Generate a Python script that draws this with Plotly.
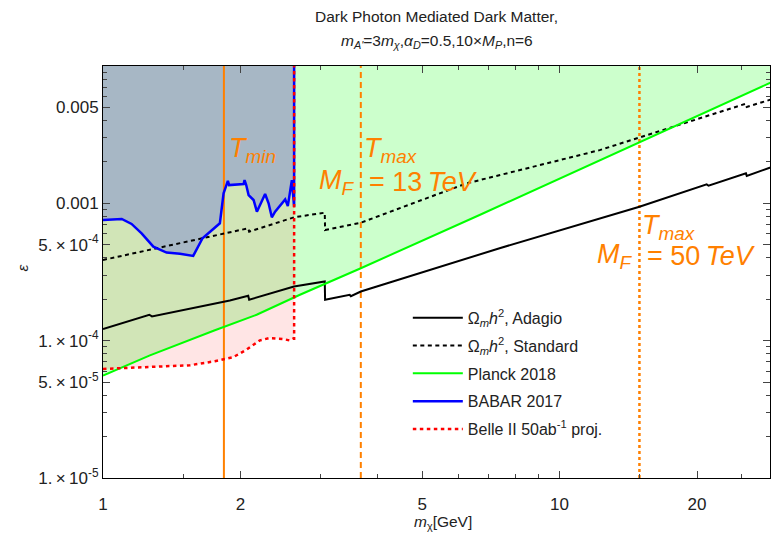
import math
import plotly.graph_objects as go

# ---------------- data ----------------
# Relic-abundance curves (epsilon vs m_chi [GeV])
adagio_m = [1.0, 1.263, 1.28, 1.80, 1.896, 2.08, 2.09, 2.62, 2.75, 3.06, 3.065, 3.47, 3.49,
            3.67, 7.39, 14.96, 21.0, 21.2, 25.6, 25.7, 30.0]
adagio_eps = [1.216e-4, 1.545e-4, 1.503e-4, 1.897e-4, 1.963e-4, 2.123e-4, 1.986e-4, 2.477e-4,
              2.541e-4, 2.698e-4, 1.986e-4, 2.158e-4, 2.109e-4, 2.280e-4, 4.71e-4, 9.44e-4,
              1.374e-3, 1.343e-3, 1.652e-3, 1.585e-3, 1.901e-3]

standard_m = [1.0, 1.896, 2.08, 2.09, 2.62, 3.06, 3.065, 3.67, 6.25, 12.24, 25.6, 25.7, 30.0]
standard_eps = [3.87e-4, 6.22e-4, 6.58e-4, 6.22e-4, 7.91e-4, 8.55e-4, 6.40e-4, 7.23e-4,
                1.396e-3, 2.44e-3, 5.32e-3, 5.04e-3, 5.89e-3]

planck_m = [1.0, 1.267, 1.758, 2.17, 2.70, 3.67, 6.68, 13.76, 30.0]
planck_eps = [5.57e-5, 7.82e-5, 1.19e-4, 1.545e-4, 2.16e-4, 3.37e-4, 8.22e-4, 2.44e-3, 7.98e-3]

babar_m = [1.0, 1.099, 1.155, 1.215, 1.289, 1.378, 1.474, 1.576, 1.652, 1.729, 1.803, 1.837,
           1.868, 1.877, 1.889, 2.032, 2.042, 2.059, 2.084, 2.137, 2.173, 2.265, 2.305, 2.343,
           2.382, 2.506, 2.540, 2.570, 2.592, 2.605, 2.622, 2.622]
babar_eps = [7.57e-4, 7.69e-4, 7.08e-4, 6.05e-4, 4.84e-4, 4.38e-4, 4.29e-4, 4.14e-4, 5.57e-4,
             6.32e-4, 7.16e-4, 1.183e-3, 1.396e-3, 1.459e-3, 1.358e-3, 1.380e-3, 1.476e-3,
             1.358e-3, 1.148e-3, 1.057e-3, 8.69e-4, 1.169e-3, 1.0e-3, 7.91e-4, 8.69e-4,
             1.069e-3, 9.55e-4, 1.285e-3, 1.476e-3, 1.213e-3, 9.44e-4, 1.0e-2]

belle_m = [1.0, 1.089, 1.267, 1.55, 1.758, 1.928, 2.063, 2.206, 2.318, 2.48, 2.56, 2.605,
           2.622, 2.622]
belle_eps = [6.22e-5, 6.32e-5, 6.44e-5, 6.62e-5, 7.08e-5, 7.57e-5, 8.61e-5, 1.005e-4,
             1.045e-4, 1.028e-4, 1.005e-4, 1.033e-4, 1.033e-4, 1.0e-2]

# Temperature markers (m_chi values)
t_min_m = 1.84
t_max13_m = 3.67
t_max50_m = 14.96
mf_labels = ["13", "50"]

eps_range = [1e-5, 1e-2]
x_major = [1, 2, 5, 10, 20]
x_major_text = ["1", "2", "5", "10", "20"]
x_minor = [1.5, 3, 4, 6, 7, 8, 9, 15, 25]
y_major = [1e-5, 5e-5, 1e-4, 5e-4, 1e-3, 5e-3]
y_major_text = ["1.\u2009\u00d7\u200910<sup>-5</sup>", "5.\u2009\u00d7\u200910<sup>-5</sup>",
                "1.\u2009\u00d7\u200910<sup>-4</sup>", "5.\u2009\u00d7\u200910<sup>-4</sup>",
                "0.001", "0.005"]
y_minor = [k * 10 ** e for e in (-5, -4, -3) for k in range(2, 10) if k != 5] + [1e-2]

ORANGE = "#ff8000"
TOP = 2e-2

fig = go.Figure()

# ---------------- filled regions ----------------
fig.add_trace(go.Scatter(x=planck_m + [planck_m[-1], planck_m[0]],
                         y=planck_eps + [TOP, TOP], fill="toself", mode="none",
                         fillcolor="rgba(0,255,0,0.2)", showlegend=False, hoverinfo="skip"))
fig.add_trace(go.Scatter(x=belle_m + [belle_m[0]], y=belle_eps[:-1] + [TOP, TOP],
                         fill="toself", mode="none",
                         fillcolor="rgba(255,0,0,0.1)", showlegend=False, hoverinfo="skip"))
fig.add_trace(go.Scatter(x=babar_m + [babar_m[0]], y=babar_eps[:-1] + [TOP, TOP],
                         fill="toself", mode="none",
                         fillcolor="rgba(0,0,255,0.2)", showlegend=False, hoverinfo="skip"))

# ---------------- temperature lines ----------------
for xv, dash, w in [(t_min_m, "solid", 2), (t_max13_m, "6px,4px", 2), (t_max50_m, "3px,3px", 2.5)]:
    fig.add_trace(go.Scatter(x=[xv, xv], y=eps_range, mode="lines",
                             line=dict(color=ORANGE, width=w, dash=dash),
                             showlegend=False, hoverinfo="skip"))

# ---------------- curves ----------------
fig.add_trace(go.Scatter(x=adagio_m, y=adagio_eps, mode="lines",
                         name="\u03a9<sub><i>m</i></sub><i>h</i><sup>2</sup>, Adagio",
                         legendgroup="a", line=dict(color="black", width=2)))
fig.add_trace(go.Scatter(x=standard_m, y=standard_eps, mode="lines",
                         name="\u03a9<sub><i>m</i></sub><i>h</i><sup>2</sup>, Standard",
                         legendgroup="b", line=dict(color="black", width=2, dash="4px,3.5px")))
fig.add_trace(go.Scatter(x=planck_m, y=planck_eps, mode="lines", name="Planck 2018",
                         legendgroup="c", line=dict(color="#00ff00", width=2)))
fig.add_trace(go.Scatter(x=babar_m, y=babar_eps, mode="lines", name="BABAR 2017",
                         legendgroup="d", line=dict(color="#0000ff", width=2.5)))
fig.add_trace(go.Scatter(x=belle_m, y=belle_eps, mode="lines",
                         name="Belle II 50ab<sup>-1</sup> proj.",
                         legendgroup="e", line=dict(color="#ff0000", width=2.5, dash="3.5px,3.5px")))

# ---------------- annotations ----------------
lab_font = dict(family="Liberation Sans", size=27, color=ORANGE)


def lab(xval, yval, text, anchor, xshift):
    fig.add_annotation(xref="x", yref="y", x=math.log10(xval), y=yval, text=text,
                       xanchor=anchor, yanchor="middle", xshift=xshift, showarrow=False,
                       font=lab_font)


lab(t_min_m, -2.615, "<i>T</i><sub><i>min</i></sub>", "left", 3)
for xv, ytop, ybot, mf in [(t_max13_m, -2.61, -2.846, mf_labels[0]),
                           (t_max50_m, -3.17, -3.383, mf_labels[1])]:
    lab(xv, ytop, "<i>T</i><sub><i>max</i></sub>", "left", 1)
    lab(xv, ybot, "<i>M</i><sub><i>F</i></sub>", "right", -4)
    lab(xv, ybot, "= " + mf + "\u2009<i>TeV</i>", "left", 6)

txt_font = dict(family="Liberation Sans", size=15.5, color="#222")
fig.add_annotation(xref="paper", yref="paper", x=0.5, y=1.119, showarrow=False,
                   text="Dark Photon Mediated Dark Matter,", font=txt_font, yanchor="middle")
fig.add_annotation(xref="paper", yref="paper", x=0.5, y=1.060, showarrow=False,
                   text="<i>m</i><sub><i>A'</i></sub>=3<i>m</i><sub><i>\u03c7</i></sub>,"
                        "<i>\u03b1</i><sub><i>D</i></sub>=0.5,10\u00d7<i>M</i><sub><i>P</i></sub>,n=6",
                   font=txt_font, yanchor="middle")
fig.add_annotation(xref="paper", yref="paper", x=0.51, y=-0.107, showarrow=False,
                   text="<i>m</i><sub>\u03c7</sub>[GeV]", font=txt_font, yanchor="middle")
fig.add_annotation(xref="paper", yref="paper", x=-0.1364, y=0.51, showarrow=False,
                   text="<i>\u03b5</i>", font=txt_font, textangle=-90)

axis_common = dict(type="log", showgrid=False, zeroline=False, showline=True,
                   linecolor="black", linewidth=1, mirror="allticks", ticks="inside",
                   ticklen=7, tickcolor="#444",
                   tickfont=dict(family="Liberation Sans", size=17, color="#222"))

fig.update_xaxes(range=[0, 1.4609], tickmode="array", tickvals=x_major, ticktext=x_major_text,
                 ticklabelstandoff=11,
                 minor=dict(tickvals=x_minor, ticks="inside", ticklen=4, tickcolor="#444"),
                 **axis_common)
fig.update_yaxes(range=[-5, -2], tickmode="array", tickvals=y_major, ticktext=y_major_text,
                 minor=dict(tickvals=y_minor, ticks="inside", ticklen=4, tickcolor="#444"),
                 **axis_common)

fig.update_layout(
    width=771, height=536,
    margin=dict(l=103, r=1, t=66, b=58),
    plot_bgcolor="white", paper_bgcolor="white",
    showlegend=True,
    legend=dict(x=0.457, y=0.43, xanchor="left", yanchor="top", bgcolor="rgba(0,0,0,0)",
                font=dict(family="Liberation Sans", size=16, color="#222"),
                traceorder="grouped", tracegroupgap=4, itemwidth=50),
)

fig.write_html("out.html", config={"displayModeBar": False},
               post_script="document.body.style.margin='0';document.body.style.overflow='hidden';")
